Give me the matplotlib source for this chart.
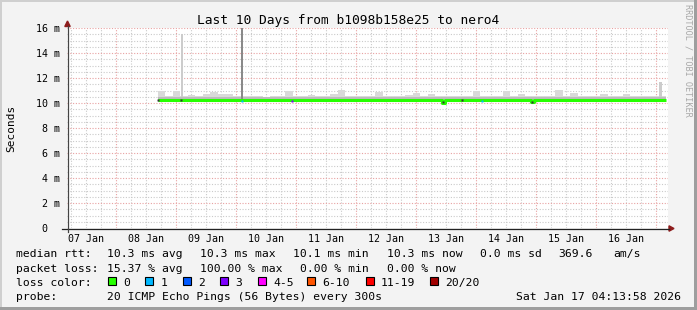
import numpy as np
import matplotlib
matplotlib.use("Agg")
import matplotlib.pyplot as plt
from matplotlib.lines import Line2D
from matplotlib.patches import Rectangle, Polygon
from matplotlib import transforms

# ---------------- data ----------------
title = "Last 10 Days from b1098b158e25 to nero4"
graph_start = 0.17637          # days after 07 Jan 00:00 (07 Jan 04:13:58)
graph_days = 10.0
day_labels = ["07 Jan", "08 Jan", "09 Jan", "10 Jan", "11 Jan",
              "12 Jan", "13 Jan", "14 Jan", "15 Jan", "16 Jan"]
y_ticks = [0, 2, 4, 6, 8, 10, 12, 14, 16]
y_tick_labels = ["0", "2 m", "4 m", "6 m", "8 m", "10 m", "12 m", "14 m", "16 m"]

# smoke (ms), 3-hour buckets
smoke_start = 1.693
smoke_step = 0.125
data_end = 10.16
smoke_top = [11.0, 10.6, 11.0, 10.6, 10.65, 10.6, 10.7, 10.9, 10.7, 10.7,
             10.55, 10.6, 10.55, 10.6, 10.5, 10.6, 10.55, 10.95, 10.6, 10.55,
             10.65, 10.55, 10.6, 10.7, 11.05, 10.55, 10.55, 10.6, 10.55, 10.9,
             10.6, 10.55, 10.6, 10.65, 10.8, 10.6, 10.75, 10.6, 10.55, 10.6,
             10.55, 10.6, 11.0, 10.6, 10.55, 10.6, 10.95, 10.6, 10.75, 10.6,
             10.55, 10.6, 10.55, 11.05, 10.6, 10.8, 10.55, 10.6, 10.55, 10.7,
             10.55, 10.6, 10.7, 10.6, 10.55, 10.6, 10.55, 10.6]
smoke_floor = 10.10
smoke_mid = 10.45

# median rtt (ms), change points
median_t = [1.693, 6.43, 6.48, 7.91, 7.96]
median_v = [10.25, 10.04, 10.25, 10.07, 10.25]

# isolated smoke spikes
spike_t0 = [2.084, 3.083, 10.050]
spike_t1 = [2.109, 3.109, 10.092]
spike_bottom = [10.45, 10.30, 10.45]
spike_top = [15.5, 16.5, 11.65]
spike_color = ["#cccccc", "#8a8a8a", "#cccccc"]

# loss markers on the median line
loss_t = [1.693, 2.071, 3.093, 3.921, 6.44, 6.754, 7.088, 7.921]
loss_color = ["#333333", "#333333", "#00b8ff", "#7e00ff", "#333333", "#333333", "#00b8ff", "#333333"]

legend_colors = ["#26ff00", "#00b8ff", "#0059ff", "#7e00ff", "#ff00ff", "#ff5500", "#ff0000", "#a10000"]
legend_names = ["0", "1", "2", "3", "4-5", "6-10", "11-19", "20/20"]

# ---------------- figure ----------------
W, H = 697, 310
MONO = "DejaVu Sans Mono"
plt.rcParams["font.family"] = [MONO, "DejaVu Sans"]

fig = plt.figure(figsize=(W / 100, H / 100), dpi=100)
fig.patch.set_facecolor("#f3f3f3")


def fx(px):
    return px / W


def fy(py):
    return 1 - py / H


L, R, T, B = 67, 668, 28, 228
ax = fig.add_axes([fx(L), fy(B), (R - L) / W, (B - T) / H])
ax.set_xlim(graph_start, graph_start + (R - L) / 60.0)
ax.set_ylim(0, 16)
ax.set_facecolor("white")
for s in ax.spines.values():
    s.set_visible(False)
ax.set_xticks([])
ax.set_yticks([])

minor_c = "#cacaca"
major_c = "#e8a2a2"
dots = (0, (1, 1.5))
# minor grid
for d in np.arange(0.25, 10.3, 0.25):
    if abs(d - round(d)) > 1e-6:
        ax.axvline(d, color=minor_c, lw=0.8, ls=dots, zorder=0)
for v in np.arange(0.5, 16.01, 0.5):
    if abs(v / 2 - round(v / 2)) > 1e-6:
        ax.axhline(v, color=minor_c, lw=0.8, ls=dots, zorder=0)
# major grid
for d in range(1, 11):
    ax.axvline(d, color=major_c, lw=0.8, ls=dots, zorder=0.5)
for v in y_ticks[1:]:
    ax.axhline(v, color=major_c, lw=0.8, ls=dots, zorder=0.5)

# smoke
edges = [smoke_start + smoke_step * i for i in range(len(smoke_top))] + [data_end]
tops = smoke_top + [smoke_top[-1]]
ax.fill_between(edges, smoke_mid, tops, step="post", color="#d9d9d9", lw=0, zorder=2)
ax.fill_between(edges, smoke_floor, smoke_mid, step="post", color="#bcbcbc", lw=0, zorder=2)
for t0, t1, b, tp, c in zip(spike_t0, spike_t1, spike_bottom, spike_top, spike_color):
    ax.fill_between([t0, t1], b, tp, color=c, lw=0, zorder=2.5)

# median line
mt = median_t + [data_end]
mv = median_v + [median_v[-1]]
ax.plot(mt, mv, drawstyle="steps-post", color="#26ff00", lw=2.2,
        solid_capstyle="butt", zorder=3)
mv_at = np.interp(loss_t, median_t, median_v)
for t, v, c in zip(loss_t, mv_at, loss_color):
    ax.plot([t], [v], marker="s", ms=1.6, color=c, mec="none", zorder=4)

# axes lines & arrows
axis_c = "#222222"
arrow_c = "#8e1c1c"
fig.add_artist(Line2D([fx(62), fx(669)], [fy(228.5), fy(228.5)], color=axis_c, lw=0.9,
                      transform=fig.transFigure))
fig.add_artist(Line2D([fx(67.5), fx(67.5)], [fy(232), fy(26)], color="#444444", lw=0.9,
                      transform=fig.transFigure))
fig.add_artist(Polygon([(fx(669), fy(225.8)), (fx(674), fy(228.5)), (fx(669), fy(231.2))],
                       closed=True, color=arrow_c, transform=fig.transFigure))
fig.add_artist(Polygon([(fx(64.8), fy(26.5)), (fx(67.5), fy(21)), (fx(70.2), fy(26.5))],
                       closed=True, color=arrow_c, transform=fig.transFigure))

# tick labels
tx = transforms.blended_transform_factory(ax.transData, fig.transFigure)
for i, lab in enumerate(day_labels):
    ax.text(i + 0.5, fy(241.5), lab, transform=tx, ha="center", va="baseline",
            fontsize=7.2, family=MONO, clip_on=False)
ty = transforms.blended_transform_factory(fig.transFigure, ax.transData)
for v, lab in zip(y_ticks, y_tick_labels):
    xr = 59.8 if lab.endswith("m") else 47.8
    ax.text(fx(xr), v, lab, transform=ty, ha="right", va="center_baseline",
            fontsize=7.2, family=MONO, clip_on=False)

# title, y label, watermark
fig.text(0.5, fy(24.3), title, ha="center", va="baseline", fontsize=9.3, family=MONO)
fig.text(fx(11), fy(128), "Seconds", rotation=90, ha="center", va="center",
         fontsize=8.0, family=MONO)
fig.text(fx(688), fy(4), "RRDTOOL / TOBI OETIKER", rotation=270, ha="center", va="top",
         fontsize=6.1, family=MONO, color="#a8a8a8")

# legend text
FS = 8.2
rows = [257.3, 271.8, 285.8, 299.8]
row1 = [(16, "median rtt:"), (107.3, "10.3 ms avg"), (200, "10.3 ms max"),
        (293.3, "10.1 ms min"), (386.5, "10.3 ms now"), (479.5, "0.0 ms sd"),
        (558.3, "369.6"), (613.3, "am/s")]
row2 = [(16, "packet loss:"), (107.3, "15.37 % avg"), (200, "100.00 % max"),
        (300.3, "0.00 % min"), (386.5, "0.00 % now")]
for x, s in row1:
    fig.text(fx(x), fy(rows[0]), s, ha="left", va="baseline", fontsize=FS, family=MONO)
for x, s in row2:
    fig.text(fx(x), fy(rows[1]), s, ha="left", va="baseline", fontsize=FS, family=MONO)
fig.text(fx(16), fy(rows[2]), "loss color:", ha="left", va="baseline", fontsize=FS, family=MONO)
sq_x = [108.3, 145.3, 182.7, 220.0, 258.3, 306.7, 365.5, 430.0]
for x, c, n in zip(sq_x, legend_colors, legend_names):
    fig.add_artist(Rectangle((fx(x), fy(284.5)), 8 / W, 8 / H, transform=fig.transFigure,
                             facecolor=c, edgecolor="black", lw=0.8))
    fig.text(fx(x + 15.3), fy(rows[2]), n, ha="left", va="baseline", fontsize=FS, family=MONO)
fig.text(fx(16), fy(rows[3]), "probe:", ha="left", va="baseline", fontsize=FS, family=MONO)
fig.text(fx(107.3), fy(rows[3]), "20 ICMP Echo Pings (56 Bytes) every 300s",
         ha="left", va="baseline", fontsize=FS, family=MONO)
fig.text(fx(680.5), fy(rows[3]), "Sat Jan 17 04:13:58 2026",
         ha="right", va="baseline", fontsize=FS, family=MONO)

# frame shading
fig.add_artist(Rectangle((0, 0), 1, 3 / H, transform=fig.transFigure, color="#9e9e9e", lw=0))
fig.add_artist(Rectangle((1 - 3 / W, 0), 3 / W, 1, transform=fig.transFigure, color="#9e9e9e", lw=0))
fig.add_artist(Rectangle((0, 1 - 2 / H), 1 - 3 / W, 2 / H, transform=fig.transFigure, color="#cfcfcf", lw=0))
fig.add_artist(Rectangle((0, 3 / H), 2 / W, 1 - 5 / H, transform=fig.transFigure, color="#cfcfcf", lw=0))

fig.savefig("out.png", dpi=100, facecolor=fig.get_facecolor())
